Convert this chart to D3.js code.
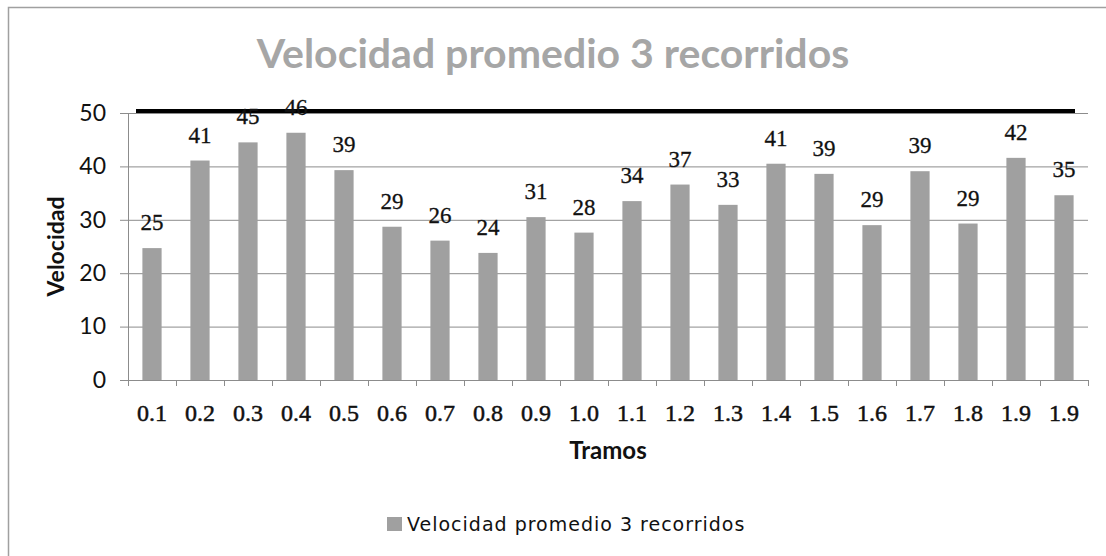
<!DOCTYPE html>
<html>
<head>
<meta charset="utf-8">
<script src="https://cdn.jsdelivr.net/npm/d3@7"></script>
<style>
  body { margin: 0; background: #fff; }
  svg { display: block; }
</style>
</head>
<body>
<div id="chart"></div>
<script>
// Chart data
var tramos = ["0.1", "0.2", "0.3", "0.4", "0.5", "0.6", "0.7", "0.8", "0.9", "1.0",
              "1.1", "1.2", "1.3", "1.4", "1.5", "1.6", "1.7", "1.8", "1.9", "1.9"];
var velocidad = [24.7, 41.1, 44.5, 46.3, 39.3, 28.7, 26.1, 23.8, 30.5, 27.6,
                 33.5, 36.6, 32.8, 40.5, 38.6, 29.0, 39.1, 29.3, 41.6, 34.6];
var yTicks = [0, 10, 20, 30, 40, 50];
var limite = [50];
var titulo = "Velocidad promedio 3 recorridos";
var serie = "Velocidad promedio 3 recorridos";

var W = 1106, H = 556;
var margin = { top: 113, right: 18, bottom: 176, left: 128 };
var width = W - margin.left - margin.right;
var height = H - margin.top - margin.bottom;

var svg = d3.select('#chart').append('svg')
  .attr('width', W).attr('height', H);

// Chart area border (runs off the right / bottom edge)
svg.append('rect')
  .attr('x', 8.5).attr('y', 7.5)
  .attr('width', 1120).attr('height', 580)
  .attr('fill', 'none').attr('stroke', '#a0a0a0').attr('stroke-width', 1.5);

// Title
svg.append('text')
  .attr('x', 553).attr('y', 68)
  .attr('text-anchor', 'middle')
  .style('font-family', 'Lato, sans-serif')
  .style('font-weight', 'bold')
  .style('font-size', '41px')
  .style('fill', '#a6a6a6')
  .text(titulo);

var canvas = svg.append('g')
  .attr('transform', 'translate(' + margin.left + ',' + margin.top + ')');

// Scales
var xScale = d3.scaleBand()
  .domain(d3.range(tramos.length))
  .range([0, width])
  .paddingInner(0.6).paddingOuter(0.3);
var yScale = d3.scaleLinear().domain([0, 50]).range([height, 0]);

// Gridlines
canvas.append('g').attr('class', 'grid')
  .selectAll('line')
  .data(yTicks.filter(function(d) { return d > 0; }))
  .enter().append('line')
    .attr('x1', 0).attr('x2', width)
    .attr('y1', function(d) { return yScale(d) + 0.5; })
    .attr('y2', function(d) { return yScale(d) + 0.5; })
    .attr('stroke', '#8c8c8c').attr('stroke-width', 1);

// Y axis
var yAxis = d3.axisLeft(yScale).tickValues(yTicks).tickSize(8).tickPadding(14)
  .tickFormat(d3.format('d'));
var gy = canvas.append('g').attr('class', 'y axis').call(yAxis);
gy.select('.domain').attr('stroke', '#8c8c8c');
gy.selectAll('.tick line').attr('stroke', '#8c8c8c');
gy.selectAll('.tick text')
  .style('font-family', 'Lato, sans-serif')
  .style('font-size', '23px')
  .style('fill', '#111');

// X axis: ticks on category boundaries
var step = xScale.step();
var xAxisLine = canvas.append('g').attr('class', 'x axis')
  .attr('transform', 'translate(0,' + height + ')');
xAxisLine.append('line')
  .attr('x1', 0).attr('x2', width).attr('y1', 0.5).attr('y2', 0.5)
  .attr('stroke', '#8c8c8c');
xAxisLine.selectAll('line.tk')
  .data(d3.range(tramos.length + 1))
  .enter().append('line')
    .attr('class', 'tk')
    .attr('x1', function(i) { return Math.min(i * step, width) + 0.5; })
    .attr('x2', function(i) { return Math.min(i * step, width) + 0.5; })
    .attr('y1', 0).attr('y2', 6)
    .attr('stroke', '#8c8c8c');
xAxisLine.selectAll('text')
  .data(tramos)
  .enter().append('text')
    .attr('x', function(d, i) { return xScale(i) + xScale.bandwidth() / 2; })
    .attr('y', 41)
    .attr('text-anchor', 'middle')
    .style('font-family', '"Liberation Serif", serif')
    .style('font-size', '24px')
    .style('fill', '#111')
    .style('stroke', '#111').style('stroke-width', 0.5)
    .text(function(d) { return d; });

// Bars
canvas.selectAll('rect.bar')
  .data(velocidad)
  .enter().append('rect')
    .attr('class', 'bar')
    .attr('x', function(d, i) { return xScale(i); })
    .attr('y', function(d) { return yScale(d); })
    .attr('width', xScale.bandwidth())
    .attr('height', function(d) { return height - yScale(d); })
    .attr('fill', '#a0a0a0');

// Black reference line near 50
canvas.selectAll('line.limite')
  .data(limite)
  .enter().append('line')
    .attr('class', 'limite')
    .attr('x1', 8).attr('x2', width - 13)
    .attr('y1', function(d) { return yScale(d) - 2; })
    .attr('y2', function(d) { return yScale(d) - 2; })
    .attr('stroke', '#000').attr('stroke-width', 4);

// Data labels
canvas.selectAll('text.label')
  .data(velocidad)
  .enter().append('text')
    .attr('class', 'label')
    .attr('x', function(d, i) { return xScale(i) + xScale.bandwidth() / 2; })
    .attr('y', function(d) { return yScale(d) - 18; })
    .attr('text-anchor', 'middle')
    .style('font-family', '"Liberation Serif", serif')
    .style('font-size', '23px')
    .style('fill', '#111')
    .style('stroke', '#111').style('stroke-width', 0.3)
    .text(function(d) { return Math.round(d); });

// Axis titles
svg.append('text')
  .attr('transform', 'translate(64,' + (margin.top + height / 2) + ') rotate(-90)')
  .attr('text-anchor', 'middle')
  .style('font-family', 'Lato, sans-serif')
  .style('font-weight', 'bold')
  .style('font-size', '23px')
  .style('fill', '#111')
  .text('Velocidad');
svg.append('text')
  .attr('x', margin.left + width / 2).attr('y', 459)
  .attr('text-anchor', 'middle')
  .style('font-family', 'Lato, sans-serif')
  .style('font-weight', 'bold')
  .style('font-size', '24px')
  .style('fill', '#111')
  .text('Tramos');

// Legend
var legend = svg.append('g').attr('class', 'legend')
  .attr('transform', 'translate(387,517)');
legend.append('rect')
  .attr('width', 15).attr('height', 14)
  .attr('fill', '#a0a0a0');
legend.append('text')
  .attr('x', 20).attr('y', 14)
  .style('font-family', '"DejaVu Sans", sans-serif')
  .style('font-size', '19px')
  .style('letter-spacing', '1px')
  .style('fill', '#111')
  .text(serie);
</script>
</body>
</html>
